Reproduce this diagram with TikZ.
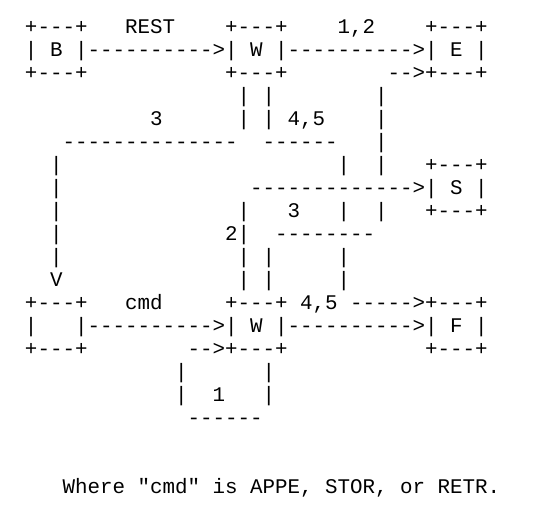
\documentclass[tikz,border=0pt]{standalone}
\usepackage{fontspec}
\setmonofont{Liberation Mono}
\usepackage{tikz}

% n empty character cells of the monospace grid
\newcommand{\blanks}[1]{\hspace*{\dimexpr0.6em*#1\relax}}

\begin{document}
\begin{tikzpicture}[
    x=6.25pt, y=11.5pt,
    every node/.style={font=\ttfamily\fontsize{10.42pt}{11.5pt}\selectfont\frenchspacing},
    artline/.style={anchor=base west, inner sep=0pt, outer sep=0pt}
]
\useasboundingbox (-2,1.448) rectangle (40.88,-20.509);
% upper pair of transfers
\node[artline] (l0)  at (0,0)   {+---+\blanks{3}REST\blanks{4}+---+\blanks{4}1,2\blanks{4}+---+};
\node[artline] (l1)  at (0,-1)  {|\blanks{1}B\blanks{1}|---------->|\blanks{1}W\blanks{1}|---------->|\blanks{1}E\blanks{1}|};
\node[artline] (l2)  at (0,-2)  {+---+\blanks{11}+---+\blanks{8}-->+---+};
\node[artline] (l3)  at (0,-3)  {\blanks{17}|\blanks{1}|\blanks{8}|};
\node[artline] (l4)  at (0,-4)  {\blanks{10}3\blanks{6}|\blanks{1}|\blanks{1}4,5\blanks{4}|};
\node[artline] (l5)  at (0,-5)  {\blanks{3}--------------\blanks{2}------\blanks{3}|};
\node[artline] (l6)  at (0,-6)  {\blanks{2}|\blanks{22}|\blanks{2}|\blanks{3}+---+};
\node[artline] (l7)  at (0,-7)  {\blanks{2}|\blanks{15}------------->|\blanks{1}S\blanks{1}|};
\node[artline] (l8)  at (0,-8)  {\blanks{2}|\blanks{14}|\blanks{3}3\blanks{3}|\blanks{2}|\blanks{3}+---+};
\node[artline] (l9)  at (0,-9)  {\blanks{2}|\blanks{13}2|\blanks{2}--------};
\node[artline] (l10) at (0,-10) {\blanks{2}|\blanks{14}|\blanks{1}|\blanks{5}|};
\node[artline] (l11) at (0,-11) {\blanks{2}V\blanks{14}|\blanks{1}|\blanks{5}|};
% lower pair of transfers
\node[artline] (l12) at (0,-12) {+---+\blanks{3}cmd\blanks{5}+---+\blanks{1}4,5\blanks{1}----->+---+};
\node[artline] (l13) at (0,-13) {|\blanks{3}|---------->|\blanks{1}W\blanks{1}|---------->|\blanks{1}F\blanks{1}|};
\node[artline] (l14) at (0,-14) {+---+\blanks{8}-->+---+\blanks{11}+---+};
\node[artline] (l15) at (0,-15) {\blanks{12}|\blanks{6}|};
\node[artline] (l16) at (0,-16) {\blanks{12}|\blanks{2}1\blanks{3}|};
\node[artline] (l17) at (0,-17) {\blanks{13}------};
% note
\node[artline] (note) at (0,-20) {\blanks{3}Where "cmd" is APPE, STOR, or RETR.};
\end{tikzpicture}
\end{document}
